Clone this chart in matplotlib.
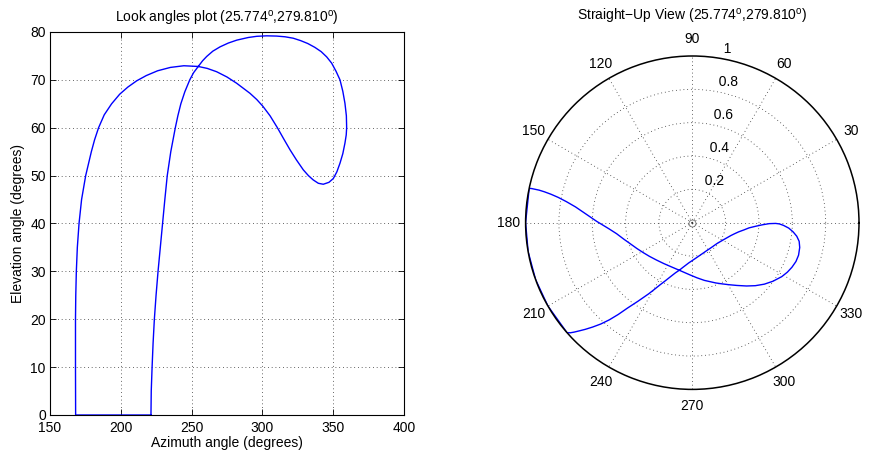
import numpy as np
import matplotlib
matplotlib.use("Agg")
import matplotlib.pyplot as plt

plt.rcParams['font.family'] = ['Liberation Sans', 'DejaVu Sans']
plt.rcParams['mathtext.fontset'] = 'custom'
plt.rcParams['mathtext.rm'] = 'Liberation Sans'
plt.rcParams['mathtext.it'] = 'Liberation Sans'

# ---- data: look-angle track (azimuth deg, elevation deg) ----
azimuth = [221.3, 210.0, 200.0, 190.0, 180.0, 168.1,
           168.0, 168.0, 168.2, 168.6, 169.3, 170.5, 172.3, 175.2, 179.2,
           181.5, 184.3, 188.3, 193.5, 199.2, 205.0, 211.2, 218.0, 226.0,
           235.0, 244.5, 254.7, 261.0, 267.7, 275.0, 281.8, 291.2, 296.0,
           300.3, 305.4, 310.6, 315.0, 319.5, 324.0, 328.9, 332.5, 335.9,
           339.5, 343.0, 347.0, 350.1, 352.6, 354.8, 356.8, 358.3, 359.2,
           359.5, 359.3, 358.3, 356.8, 354.8, 352.0, 348.9, 345.4, 341.5,
           337.0, 332.0, 327.0, 321.8, 316.0, 310.0, 303.0, 296.0, 290.0,
           281.9, 276.0, 270.1, 265.0, 260.7, 257.8, 254.7, 251.4, 248.7,
           245.2, 242.4, 240.3, 238.5, 235.3, 232.8, 231.1, 229.5, 227.9,
           226.3, 224.9, 223.7, 222.8, 222.1, 221.5, 221.3]
elevation = [0.0, 0.0, 0.0, 0.0, 0.0, 0.0,
             10.0, 20.0, 25.0, 30.0, 35.0, 40.0, 45.0, 50.0, 55.0,
             57.5, 60.0, 62.7, 65.0, 67.0, 68.5, 69.8, 70.9, 71.9,
             72.6, 72.95, 72.8, 72.4, 71.7, 70.6, 69.3, 67.2, 65.9,
             64.5, 62.5, 60.0, 57.7, 55.4, 53.3, 51.2, 50.0, 49.1,
             48.4, 48.2, 48.6, 49.4, 50.8, 52.6, 54.6, 56.8, 58.5,
             60.0, 62.5, 65.1, 67.6, 70.0, 71.8, 73.5, 74.8, 75.9,
             76.8, 77.6, 78.2, 78.7, 79.0, 79.15, 79.2, 79.1, 78.85,
             78.3, 77.7, 76.9, 76.0, 74.9, 74.0, 72.8, 71.5, 70.0,
             67.5, 65.0, 62.5, 60.0, 55.0, 50.0, 45.0, 40.0, 35.0,
             30.0, 25.0, 20.0, 15.0, 10.0, 5.0, 0.0]

x_ticks = [150, 200, 250, 300, 350, 400]
y_ticks = [0, 10, 20, 30, 40, 50, 60, 70, 80]
theta_ticks = [0, 30, 60, 90, 120, 150, 180, 210, 240, 270, 300, 330]
theta_labels = ['', '30', '60', '90', '120', '150', '180', '210', '240', '270', '300', '330']
r_ticks = [0.2, 0.4, 0.6, 0.8, 1.0]
r_labels = ['0.2', '0.4', '0.6', '0.8', '1']

title_left = r'Look angles plot (25.774$^{\rm o}$,279.810$^{\rm o}$)'
title_right = r'Straight−Up View (25.774$^{\rm o}$,279.810$^{\rm o}$)'

az = np.array(azimuth)
el = np.array(elevation)

fig = plt.figure(figsize=(8.71, 4.53), dpi=100)
W, H = 871.0, 453.0

# ---- left: Cartesian look angles ----
ax = fig.add_axes([50 / W, 1 - 415 / H, 354 / W, 383 / H])
ax.plot(az, el, color=(0, 0, 1), lw=1.0)
ax.set_xlim(150, 400)
ax.set_ylim(0, 80)
ax.set_xticks(x_ticks)
ax.set_yticks(y_ticks)
ax.grid(True, color='0.2', linestyle=(0, (1, 3.5)), linewidth=0.6)
ax.tick_params(direction='in', top=True, right=True, length=4, width=0.6,
               labelsize=10, colors='black')
ax.tick_params(axis='x', pad=4)
ax.tick_params(axis='y', pad=3)
for s in ax.spines.values():
    s.set_linewidth(0.8)
    s.set_color('black')
ax.set_xlabel('Azimuth angle (degrees)', fontsize=10, labelpad=1)
ax.set_ylabel('Elevation angle (degrees)', fontsize=10, labelpad=4)
ax.set_title(title_left, fontsize=10, pad=7)

# ---- right: polar straight-up view ----
cx, cy, R = 692.3, 222.7, 166.7
pax = fig.add_axes([(cx - R) / W, 1 - (cy + R) / H, 2 * R / W, 2 * R / H],
                   projection='polar')
pax.set_theta_zero_location('E')
pax.set_theta_direction(1)
pax.plot(np.deg2rad(az), np.cos(np.deg2rad(el)), color=(0, 0, 1), lw=1.0)
pax.set_ylim(0, 1)
pax.set_rgrids([0.2, 0.4, 0.6, 0.8], labels=['', '', '', ''])
pax.set_thetagrids(theta_ticks, labels=[''] * len(theta_ticks))
pax.grid(True, color='0.2', linestyle=(0, (1, 3.5)), linewidth=0.6)
pax.spines['polar'].set_linewidth(1.1)
pax.spines['polar'].set_color('black')
pax.plot([0], [0], marker='o', ms=5, mfc='none', mec='0.45', mew=0.6, ls='none')
for t, lab in zip(theta_ticks, theta_labels):
    pax.text(np.deg2rad(t), 1.1, lab, ha='center', va='center', fontsize=10,
             clip_on=False)
for r, lab in zip(r_ticks, r_labels):
    pax.text(np.deg2rad(82), r + 0.01, '  ' + lab, ha='left', va='bottom',
             fontsize=10, clip_on=False)

fig.text(cx / W, 1 - 16 / H, title_right, ha='center', va='center', fontsize=10)

fig.savefig('out.png', dpi=100)
